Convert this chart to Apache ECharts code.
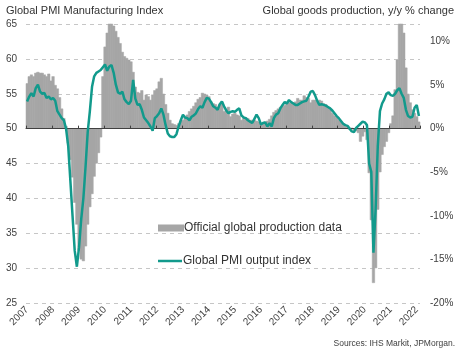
<!DOCTYPE html>
<html>
<head>
<meta charset="utf-8">
<script src="https://cdn.jsdelivr.net/npm/echarts@6/dist/echarts.min.js"></script>
<style>
  html, body { margin: 0; padding: 0; background: #fff; }
  #chart { width: 470px; height: 353px; }
</style>
</head>
<body>
<div id="chart"></div>
<script>
const startYear = 2007;

// global goods production, y/y % (monthly, Jan 2007 - Feb 2022)
const production = [
  5.2, 6.0, 6.2, 6.0, 6.4, 6.5, 6.4, 6.4, 6.2, 6.0, 6.3, 5.5,
  6.0, 5.0, 4.6, 3.6, 2.3, 1.2, 0.3, -1.7, -3.6, -5.6, -8.5, -11.0,
  -14.0, -15.0, -15.2, -13.5, -11.0, -9.0, -7.5, -5.5, -4.0, -2.8, -1.0, 6.0,
  9.4, 11.0, 13.0, 13.0, 11.8, 11.2, 10.5, 9.8, 8.8, 8.3, 8.1, 7.9,
  7.7, 6.5, 4.8, 4.2, 4.1, 4.4, 3.3, 3.9, 3.7, 3.3, 3.9, 4.4,
  4.6, 5.4, 5.8, 4.0, 2.8, 1.8, 1.0, 0.6, 0.5, 0.4, 0.6, 0.9,
  1.0, 1.3, 1.6, 2.0, 2.3, 2.6, 3.0, 3.4, 3.6, 4.1, 4.0, 3.9,
  3.7, 3.1, 2.9, 2.8, 2.5, 2.8, 3.1, 2.0, 2.3, 2.5, 1.4, 1.7,
  1.8, 1.6, 1.5, 1.0, 1.2, 1.3, 1.2, 1.0, 1.0, 1.0, 0.9, 0.8,
  0.6, 0.7, 0.8, 0.9, 1.1, 1.5, 1.9, 2.1, 2.3, 2.5, 2.6, 2.7,
  3.1, 3.0, 2.9, 3.0, 3.1, 3.5, 3.3, 3.3, 3.8, 3.6, 3.5, 3.0,
  3.3, 3.3, 3.1, 3.3, 3.2, 2.9, 2.8, 2.5, 2.2, 1.8, 1.5, 1.3,
  1.0, 0.8, 0.6, 0.3, 0.2, -0.1, 0.1, -0.2, -0.3, -0.5, -1.5, -0.9,
  -0.4, -1.3, -5.1, -10.5, -17.7, -16.0, -9.3, -5.0, -3.0, -2.1, -1.5, -0.5,
  0.6, 1.5, 4.5, 7.9, 14.0, 14.0, 11.0, 7.0, 4.0, 3.0, 2.2, 1.8,
  1.4, 0.8
];

// global PMI output index (monthly, same span)
const pmiOutput = [
  53.9, 54.6, 55.1, 54.6, 55.8, 56.3, 55.3, 55.0, 55.1, 54.4, 54.6, 54.2,
  54.4, 54.0, 52.5, 52.0, 51.5, 51.2, 50.0, 47.5, 42.5, 37.5, 32.5, 30.2,
  33.0, 37.0, 40.0, 44.5, 49.5, 52.5, 56.0, 57.5, 58.0, 58.2, 58.4, 58.8,
  59.2, 58.3, 58.9, 59.1, 58.0, 56.3, 55.2, 55.0, 55.3, 54.2, 53.8, 53.5,
  54.0, 57.0, 54.3, 53.4, 53.5, 52.7, 51.6, 51.2, 50.8, 50.3, 49.7, 51.5,
  51.8, 52.2, 52.9, 52.0, 50.5, 49.3, 48.9, 48.8, 48.8, 49.2, 50.3, 51.2,
  52.0, 51.6, 51.5, 51.2, 51.7, 51.9, 52.2, 52.8, 53.2, 53.0, 53.8, 54.4,
  54.3, 53.8, 53.2, 53.0, 52.7, 53.5, 53.9, 53.2, 52.6, 52.2, 52.4, 52.5,
  52.4, 52.7, 52.9, 51.9, 51.6, 51.5, 51.2, 51.0, 50.8, 51.4, 52.0, 51.5,
  50.6, 50.8, 50.9, 50.3, 50.8, 50.3, 51.5, 52.0, 52.2, 52.9, 53.4, 53.8,
  53.6, 54.1, 53.8, 53.6, 53.4, 53.4, 53.6, 53.8, 53.9, 54.0, 54.6, 55.3,
  55.4, 54.8, 54.0, 53.4, 53.5, 53.4, 53.3, 53.1, 52.9, 52.6, 52.2, 51.8,
  51.5, 51.1, 50.7, 50.5, 50.4, 50.0, 49.6, 49.5, 50.1, 50.4, 50.7, 51.0,
  50.9, 50.5, 45.0, 43.8, 32.2, 38.5, 47.5, 52.5, 53.6, 54.2, 55.0, 55.2,
  54.8, 54.7, 55.0, 55.5, 55.8, 55.0, 54.4, 52.7, 51.8, 51.6, 51.7, 53.0,
  53.4, 51.8
];

const barName = 'Official global production data';
const lineName = 'Global PMI output index';

const months = production.map((_, i) =>
  (startYear + Math.floor(i / 12)) + '-' + String(i % 12 + 1).padStart(2, '0'));

const yearStart = (index) => index % 12 === 0;
const teal = '#129a8c';
const grey = '#a6a6a6';
const font = 'Arial, "Liberation Sans", sans-serif';

const legendText = { fontSize: 12, color: '#333', fontFamily: font, padding: [0, 0, 0, -4] };

const chart = echarts.init(document.getElementById('chart'));
chart.setOption({
  animation: false,
  backgroundColor: '#fff',
  textStyle: { fontFamily: font },
  title: [
    {
      text: 'Global PMI Manufacturing Index',
      left: 6, top: 5, padding: 0,
      textStyle: { fontSize: 11, fontWeight: 'normal', color: '#333', fontFamily: font }
    },
    {
      text: 'Global goods production, y/y % change',
      right: 16, top: 5, padding: 0,
      textStyle: { fontSize: 11, fontWeight: 'normal', color: '#333', fontFamily: font }
    },
    {
      text: 'Sources: IHS Markit, JPMorgan.',
      right: 15, bottom: 5, padding: 0,
      textStyle: { fontSize: 8.5, fontWeight: 'normal', color: '#404040', fontFamily: font }
    }
  ],
  legend: [
    {
      left: 158, top: 222, padding: 0,
      itemWidth: 24, itemHeight: 5,
      textStyle: legendText,
      data: [{ name: barName, icon: 'rect' }]
    },
    {
      left: 158, top: 255, padding: 0,
      itemWidth: 24, itemHeight: 2.5,
      textStyle: legendText,
      data: [{ name: lineName, icon: 'rect' }]
    }
  ],
  grid: { left: 26, right: 50, top: 24, bottom: 50, containLabel: false, outerBoundsMode: 'none' },
  xAxis: [
    {
      type: 'category',
      data: months,
      axisLine: { show: false, onZero: false },
      axisTick: { show: false },
      axisLabel: {
        interval: yearStart,
        rotate: 45,
        margin: 5,
        fontSize: 10,
        color: '#404040',
        formatter: (v) => v.slice(0, 4)
      },
      splitLine: { show: false }
    },
    {
      type: 'category',
      data: months,
      z: 3,
      axisLine: { show: true, onZero: true, onZeroAxisIndex: 1, lineStyle: { color: '#404040', width: 1 } },
      axisTick: { show: true, interval: yearStart, length: 3, lineStyle: { color: '#404040' } },
      axisLabel: { show: false },
      splitLine: { show: false }
    }
  ],
  yAxis: [
    {
      type: 'value',
      min: 25, max: 65, interval: 5,
      axisLine: { show: false },
      axisTick: { show: false },
      axisLabel: { fontSize: 10, color: '#404040', margin: 9 },
      splitLine: { show: true, lineStyle: { type: [4, 4], color: '#c6c6c6', width: 1 } }
    },
    {
      type: 'value',
      position: 'right',
      min: -20, max: 12, interval: 5,
      axisLine: { show: false },
      axisTick: { show: false },
      axisLabel: { fontSize: 10, color: '#404040', margin: 10, showMaxLabel: false, formatter: '{value}%' },
      splitLine: { show: false }
    }
  ],
  series: [
    {
      name: barName,
      type: 'bar',
      xAxisIndex: 0,
      yAxisIndex: 1,
      data: production,
      barWidth: 3,
      barCategoryGap: '0%',
      itemStyle: { color: grey, borderColor: grey, borderWidth: 0.5 },
      clip: true,
      z: 2
    },
    {
      name: lineName,
      type: 'line',
      xAxisIndex: 0,
      yAxisIndex: 0,
      data: pmiOutput,
      symbol: 'none',
      lineStyle: { color: teal, width: 2.5 },
      itemStyle: { color: teal },
      z: 4
    }
  ]
});
</script>
</body>
</html>
